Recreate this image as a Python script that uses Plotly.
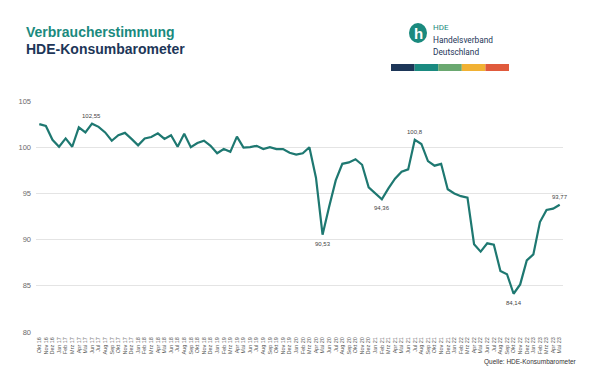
import plotly.graph_objects as go

months = [
    "Okt 16", "Nov 16", "Dez 16",
    "Jan 17", "Feb 17", "Mrz 17", "Apr 17", "Mai 17", "Jun 17", "Jul 17", "Aug 17", "Sep 17", "Okt 17", "Nov 17", "Dez 17",
    "Jan 18", "Feb 18", "Mrz 18", "Apr 18", "Mai 18", "Jun 18", "Jul 18", "Aug 18", "Sep 18", "Okt 18", "Nov 18", "Dez 18",
    "Jan 19", "Feb 19", "Mrz 19", "Apr 19", "Mai 19", "Jun 19", "Jul 19", "Aug 19", "Sep 19", "Okt 19", "Nov 19", "Dez 19",
    "Jan 20", "Feb 20", "Mrz 20", "Apr 20", "Mai 20", "Jun 20", "Jul 20", "Aug 20", "Sep 20", "Okt 20", "Nov 20", "Dez 20",
    "Jan 21", "Feb 21", "Mrz 21", "Apr 21", "Mai 21", "Jun 21", "Jul 21", "Aug 21", "Sep 21", "Okt 21", "Nov 21", "Dez 21",
    "Jan 22", "Feb 22", "Mrz 22", "Apr 22", "Mai 22", "Jun 22", "Jul 22", "Aug 22", "Sep 22", "Okt 22", "Nov 22", "Dez 22",
    "Jan 23", "Feb 23", "Mrz 23", "Apr 23", "Mai 23",
]

index_values = [
    102.50, 102.30, 100.80,
    100.05, 100.95, 100.05, 102.15, 101.60, 102.55, 102.20, 101.60, 100.70, 101.30, 101.55, 100.90,
    100.20, 100.95, 101.10, 101.50, 100.90, 101.30, 100.05, 101.45, 100.00, 100.45, 100.70, 100.15,
    99.35, 99.80, 99.50, 101.15, 99.95, 100.00, 100.15, 99.80, 100.00, 99.80, 99.80, 99.40,
    99.20, 99.35, 100.00, 96.70, 90.53, 93.55, 96.40, 98.20, 98.35, 98.70, 98.10, 95.65,
    94.95, 94.36, 95.55, 96.60, 97.35, 97.60, 100.80, 100.35, 98.50, 98.00, 98.20, 95.45,
    95.00, 94.70, 94.55, 89.50, 88.70, 89.60, 89.45, 86.60, 86.25, 84.14, 85.15, 87.75,
    88.40, 91.90, 93.20, 93.35, 93.77,
]

# labelled points: (month, position)
labelled = [("Jun 17", "above"), ("Mai 20", "below"), ("Feb 21", "below"),
            ("Jul 21", "above"), ("Okt 22", "below"), ("Mai 23", "above")]

y_ticks = [80, 85, 90, 95, 100, 105]

title_1 = "Verbraucherstimmung"
title_2 = "HDE-Konsumbarometer"
source = "Quelle: HDE-Konsumbarometer"
brand_colors = ["#1d3658", "#1a8a80", "#6aa870", "#f1b133", "#e05a3c"]

FONT = "Liberation Sans, Arial, sans-serif"

# figure geometry (page is offset by the 8px body margin)
OFF = 8
W, H = 584, 360
L, R, T, B = 28, 29, 93, 36
PW, PH = W - L - R, H - T - B


def px(xp):
    return (xp - OFF - L) / PW


def py(yp):
    return (H - B - (yp - OFF)) / PH


fig = go.Figure()
fig.add_trace(go.Scatter(
    x=months, y=index_values, mode="lines",
    line=dict(color="#1e7871", width=2.2),
    hoverinfo="x+y", showlegend=False,
))

for m, pos in labelled:
    v = index_values[months.index(m)]
    txt = f"{v:.2f}".rstrip("0").rstrip(".").replace(".", ",")
    fig.add_annotation(
        x=m, y=v, xref="x", yref="y", text=txt, showarrow=False,
        yshift=8 if pos == "above" else -9,
        font=dict(family=FONT, size=6, color="#444444"),
    )

fig.update_layout(
    width=W, height=H,
    margin=dict(l=L, r=R, t=T, b=B, autoexpand=False),
    paper_bgcolor="white", plot_bgcolor="white",
    font=dict(family=FONT),
    xaxis=dict(
        type="category", range=[-0.5, 79.5], automargin=False,
        tickangle=-90, tickfont=dict(size=5.5, color="#595959"),
        showgrid=False, zeroline=False, showline=False, ticks="",
        tickmode="array", tickvals=months, ticktext=months,
        ticklabelstandoff=3,
    ),
    yaxis=dict(
        range=[80, 105], tickvals=y_ticks, automargin=False,
        tickfont=dict(size=7.5, color="#6b6b6b"),
        showgrid=True, gridcolor="#e4e4e4", gridwidth=1,
        zeroline=False, showline=False, ticks="", ticklabelstandoff=4,
    ),
)

# Titles
fig.add_annotation(xref="paper", yref="paper", x=px(24), y=py(32), yanchor="middle",
                   xanchor="left", text=f"<b>{title_1}</b>", showarrow=False,
                   font=dict(family=FONT, size=14, color="#1a8a7e"))
fig.add_annotation(xref="paper", yref="paper", x=px(24), y=py(49), yanchor="middle",
                   xanchor="left", text=f"<b>{title_2}</b>", showarrow=False,
                   font=dict(family=FONT, size=14, color="#1d3658"))

# Source
fig.add_annotation(xref="paper", yref="paper", x=px(579), y=py(362), yanchor="middle",
                   xanchor="right", text=source, showarrow=False,
                   font=dict(family=FONT, size=6.5, color="#333333"))

# Logo
fig.add_shape(type="circle", xref="paper", yref="paper", xsizemode="pixel", ysizemode="pixel",
              xanchor=px(418), yanchor=py(33), layer="below",
              x0=-9, x1=9, y0=-10, y1=10, fillcolor="#1a8a7e", line=dict(width=0))
fig.add_annotation(xref="paper", yref="paper", x=px(418.5), y=py(33), yanchor="middle",
                   xanchor="center", text="<b>h</b>", showarrow=False,
                   font=dict(family=FONT, size=15, color="white"))
fig.add_annotation(xref="paper", yref="paper", x=px(431), y=py(28), yanchor="middle",
                   xanchor="left", text="HDE", showarrow=False,
                   font=dict(family="Roboto, Arial", size=8, color="#1a8a7e"))
fig.add_annotation(xref="paper", yref="paper", x=px(431), y=py(39.5), yanchor="middle",
                   xanchor="left", text="Handelsverband", showarrow=False,
                   font=dict(family="Roboto, Arial", size=8.3, color="#1d3658"))
fig.add_annotation(xref="paper", yref="paper", x=px(431), y=py(51.5), yanchor="middle",
                   xanchor="left", text="Deutschland", showarrow=False,
                   font=dict(family="Roboto, Arial", size=8.3, color="#1d3658"))

seg_w = (509 - 391) / 5
for k, c in enumerate(brand_colors):
    x0 = 391 + k * seg_w
    fig.add_shape(type="rect", xref="paper", yref="paper", layer="below",
                  x0=px(x0), x1=px(x0 + seg_w),
                  y0=py(71), y1=py(64),
                  fillcolor=c, line=dict(width=0))

fig.write_html("out.html")
